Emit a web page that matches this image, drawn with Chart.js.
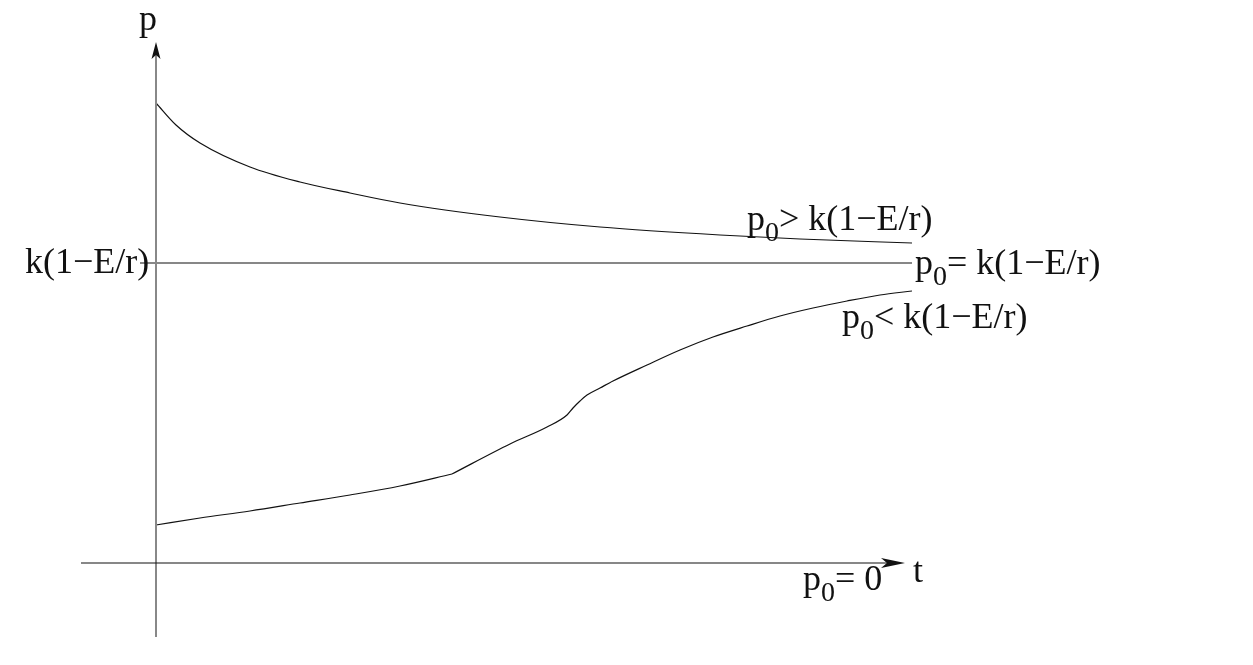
<!DOCTYPE html>
<html>
<head>
<meta charset="utf-8">
<script src="https://cdn.jsdelivr.net/npm/chart.js@4"></script>
<style>
  html, body { margin: 0; padding: 0; background: #fff; }
  canvas { display: block; }
</style>
</head>
<body>
<canvas id="chart" width="1253" height="665"></canvas>
<script>
// values (t across, p up)
const upperT = [0, 0.2, 0.44, 0.94, 1.44, 1.94, 2.44, 3.44, 4.44, 5.64, 6.44, 7.56];
const upperP = [4.60, 4.38, 4.20, 3.96, 3.81, 3.70, 3.60, 3.46, 3.36, 3.28, 3.24, 3.20];

const equilT = [-0.16, 7.56];
const equilP = [3.0, 3.0];

// lower curve in two pieces, there is a small kink at t ~ 2.96
const lowerT1 = [0, 0.44, 0.94, 1.44, 1.94, 2.44, 2.96];
const lowerP1 = [0.38, 0.45, 0.52, 0.60, 0.68, 0.77, 0.89];
const lowerT2 = [2.96, 3.54, 3.91, 4.11, 4.17, 4.24, 4.31, 4.44, 4.57, 4.91, 5.24, 5.57, 5.91, 6.24, 6.57, 6.91, 7.24, 7.56];
const lowerP2 = [0.89, 1.19, 1.36, 1.48, 1.55, 1.62, 1.68, 1.75, 1.82, 1.98, 2.13, 2.26, 2.37, 2.47, 2.55, 2.62, 2.68, 2.72];

const tRange = [-0.75, 7.56];
const pRange = [-0.74, 5.21];

const FONT = '"Liberation Serif", "Times New Roman", Times, serif';

function pts(xs, ys) {
    return xs.map((x, i) => ({ x: x, y: ys[i] }));
}

function curve(xs, ys, smooth) {
    return {
        data: pts(xs, ys),
        borderColor: '#111',
        borderWidth: 1.2,
        pointRadius: 0,
        fill: false,
        cubicInterpolationMode: smooth ? 'monotone' : 'default',
        tension: 0
    };
}

// text with an optional subscript part
function drawLabel(ctx, parts, x, y) {
    let cx = x;
    parts.forEach(part => {
        const sub = part[1];
        ctx.font = (sub ? 28 : 36) + 'px ' + FONT;
        ctx.fillText(part[0], cx, sub ? y + 11 : y);
        cx += ctx.measureText(part[0]).width;
    });
}

const axesPlugin = {
    id: 'axesAndLabels',
    afterDatasetsDraw(chart) {
        const ctx = chart.ctx;
        const xs = chart.scales.x, ys = chart.scales.y;
        const x0 = xs.getPixelForValue(0);
        const y0 = ys.getPixelForValue(0);

        ctx.save();
        // p axis
        ctx.strokeStyle = '#888';
        ctx.lineWidth = 2;
        ctx.beginPath();
        ctx.moveTo(x0, ys.getPixelForValue(pRange[0]));
        ctx.lineTo(x0, ys.getPixelForValue(pRange[1]) + 10);
        ctx.stroke();
        const top = ys.getPixelForValue(pRange[1]);
        ctx.fillStyle = '#111';
        ctx.beginPath();
        ctx.moveTo(x0, top);
        ctx.lineTo(x0 - 4.5, top + 17);
        ctx.lineTo(x0, top + 13);
        ctx.lineTo(x0 + 4.5, top + 17);
        ctx.closePath();
        ctx.fill();

        // t axis
        const tipX = xs.getPixelForValue(7.49);
        ctx.strokeStyle = '#111';
        ctx.lineWidth = 1.2;
        ctx.beginPath();
        ctx.moveTo(xs.getPixelForValue(tRange[0]), y0);
        ctx.lineTo(tipX - 10, y0);
        ctx.stroke();
        ctx.beginPath();
        ctx.moveTo(tipX, y0);
        ctx.lineTo(tipX - 24, y0 - 5);
        ctx.lineTo(tipX - 18, y0);
        ctx.lineTo(tipX - 24, y0 + 5);
        ctx.closePath();
        ctx.fill();

        // labels
        ctx.fillStyle = '#111';
        ctx.textBaseline = 'alphabetic';
        const at = (t, p) => [xs.getPixelForValue(t), ys.getPixelForValue(p)];
        let q;
        q = at(-0.17, 5.33); drawLabel(ctx, [['p']], q[0], q[1]);
        q = at(-1.31, 2.90); drawLabel(ctx, [['k(1\u2212E/r)']], q[0], q[1]);
        q = at(5.91, 3.33); drawLabel(ctx, [['p'], ['0', true], ['> k(1\u2212E/r)']], q[0], q[1]);
        q = at(6.86, 2.35); drawLabel(ctx, [['p'], ['0', true], ['< k(1\u2212E/r)']], q[0], q[1]);
        q = at(6.47, -0.27); drawLabel(ctx, [['p'], ['0', true], ['= 0']], q[0], q[1]);
        q = at(7.57, -0.19); drawLabel(ctx, [['t']], q[0], q[1]);

        // this one is cut off on the right in the original
        q = at(7.59, 2.89);
        ctx.save();
        ctx.beginPath();
        ctx.rect(0, 0, 1104, chart.height);
        ctx.clip();
        drawLabel(ctx, [['p'], ['0', true], ['= k(1\u2212E/r)']], q[0], q[1]);
        ctx.restore();

        ctx.restore();
    }
};

new Chart(document.getElementById('chart').getContext('2d'), {
    type: 'line',
    data: {
        datasets: [
            curve(upperT, upperP, true),
            curve(equilT, equilP, false),
            curve(lowerT1, lowerP1, true),
            curve(lowerT2, lowerP2, true)
        ]
    },
    options: {
        responsive: false,
        animation: false,
        devicePixelRatio: 1,
        layout: { padding: { left: 81, right: 341, top: 42, bottom: 28 } },
        plugins: { legend: { display: false }, tooltip: { enabled: false } },
        scales: {
            x: { type: 'linear', min: tRange[0], max: tRange[1], display: false },
            y: { type: 'linear', min: pRange[0], max: pRange[1], display: false }
        }
    },
    plugins: [axesPlugin]
});
</script>
</body>
</html>
